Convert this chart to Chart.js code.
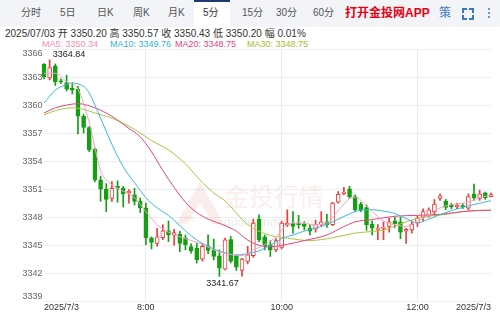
<!DOCTYPE html>
<html>
<head>
<meta charset="utf-8">
<script src="https://cdn.jsdelivr.net/npm/chart.js@4.4.1/dist/chart.umd.min.js"></script>
<style>
  html, body { margin: 0; padding: 0; width: 500px; height: 312px; overflow: hidden; background: #fff;
    font-family: Arial, "Liberation Sans", "Noto Sans CJK SC", sans-serif; }
  #tabs { position: absolute; left: 0; top: 0; width: 500px; height: 27px; background: #f2f4f8; }
  .tab { position: absolute; top: 0; height: 27px; line-height: 26px; font-size: 10px; color: #555; white-space: nowrap; }
  #active { position: absolute; left: 194px; top: 0; width: 36px; height: 25px; background: #fff; border-top: 2px solid #1d3c6e; }
  #app { position: absolute; left: 345px; top: 0; line-height: 26px; font-size: 12px; font-weight: bold; color: #e60012; }
  #ce { position: absolute; left: 439px; top: 0; line-height: 26px; font-size: 12px; color: #3a78c9; }
  .corner { position: absolute; width: 3px; height: 3px; border-color: #3a78c9; border-style: solid; border-width: 0; }
  .dot { position: absolute; left: 488px; width: 2px; height: 2px; background: #3a78c9; border-radius: 1px; }
  #info { position: absolute; left: 5px; top: 27px; line-height: 13px; font-size: 10px; color: #333; white-space: nowrap; }
  .ma { position: absolute; top: 39px; line-height: 11px; font-size: 9px; white-space: nowrap; }
  #wrap { position: absolute; left: 0; top: 0; width: 500px; height: 312px; }
</style>
</head>
<body>
<div id="tabs">
  <div id="active"></div>
  <span class="tab" style="left:21px">分时</span>
  <span class="tab" style="left:60px">5日</span>
  <span class="tab" style="left:97px">日K</span>
  <span class="tab" style="left:133px">周K</span>
  <span class="tab" style="left:168px">月K</span>
  <span class="tab" style="left:203px;color:#333">5分</span>
  <span class="tab" style="left:242px">15分</span>
  <span class="tab" style="left:276px">30分</span>
  <span class="tab" style="left:313px">60分</span>
  <span id="app">打开金投网APP</span>
  <span id="ce">策</span>
  <div class="corner" style="left:462px;top:8px;border-top-width:2px;border-left-width:2px"></div>
  <div class="corner" style="left:469px;top:8px;border-top-width:2px;border-right-width:2px"></div>
  <div class="corner" style="left:462px;top:15px;border-bottom-width:2px;border-left-width:2px"></div>
  <div class="corner" style="left:469px;top:15px;border-bottom-width:2px;border-right-width:2px"></div>
  <div class="dot" style="top:8px"></div>
  <div class="dot" style="top:12px"></div>
  <div class="dot" style="top:16px"></div>
</div>
<div id="info">2025/07/03 开 3350.20 高 3350.57 收 3350.43 低 3350.20 幅 0.01%</div>
<span class="ma" style="left:42px;color:#f08fb0">MA5: 3350.34</span>
<span class="ma" style="left:110px;color:#2fb3d9">MA10: 3349.76</span>
<span class="ma" style="left:175px;color:#e5467e">MA20: 3348.75</span>
<span class="ma" style="left:247px;color:#9dbf2e">MA30: 3348.75</span>
<div id="wrap"><canvas id="chart"></canvas></div>
<script>
// 5 minute candles, 6:30 .. 13:05
var times = [];
for (var k = 0; k < 80; k++) {
  var m = 390 + k * 5;
  times.push(Math.floor(m / 60) + ':' + ('0' + (m % 60)).slice(-2));
}
var tickLabels = { 0: '2025/7/3', 18: '8:00', 42: '10:00', 66: '12:00', 79: '2025/7/3' };
var yTicks = [3339, 3342, 3345, 3348, 3351, 3354, 3357, 3360, 3363, 3366];

var opens = [3364.35,3362.9,3364.2,3362.6,3362.4,3361.8,3361.7,3358.8,3357.6,3355.3,
  3352.0,3351.0,3350.0,3351.3,3351.1,3350.6,3350.4,3349.7,3349.0,3345.8,
  3345.2,3345.8,3346.55,3346.1,3346.2,3345.8,3344.85,3344.7,3343.5,3344.9,
  3344.5,3343.87,3342.45,3345.6,3343.9,3342.3,3343.26,3343.87,3347.8,3345.9,
  3345.05,3344.5,3344.76,3347.2,3347.37,3347.3,3347.3,3346.8,3346.73,3347.2,
  3347.5,3347.2,3349.6,3350.5,3351.04,3350.22,3349.4,3349.04,3347.27,3346.7,
  3346.8,3347.0,3347.6,3347.5,3346.5,3346.65,3347.37,3348.0,3348.2,3348.6,
  3350.0,3349.7,3349.3,3349.1,3349.25,3348.97,3350.5,3350.0,3350.6,3350.2];
var highs = [3364.45,3364.84,3364.4,3362.8,3363.2,3362.4,3362.0,3359.0,3357.7,3355.4,
  3352.4,3351.6,3351.8,3351.9,3351.3,3350.95,3351.1,3350.05,3349.5,3345.9,
  3346.8,3347.2,3347.6,3346.7,3346.5,3346.1,3345.15,3345.2,3345.2,3346.1,
  3345.66,3344.5,3345.76,3345.94,3344.0,3343.6,3344.87,3347.8,3348.26,3346.1,
  3345.5,3345.7,3347.55,3348.8,3348.6,3348.2,3347.5,3347.2,3347.7,3348.6,
  3348.3,3349.6,3350.75,3351.2,3351.3,3350.4,3349.6,3349.3,3347.6,3347.2,
  3347.5,3347.9,3348.0,3348.0,3346.8,3347.6,3348.1,3348.9,3349.0,3349.9,
  3350.5,3349.9,3349.5,3349.5,3349.5,3350.5,3351.55,3350.9,3350.7,3350.57];
var lows = [3362.8,3362.7,3362.1,3362.3,3361.5,3361.2,3356.9,3357.0,3355.0,3351.8,
  3349.7,3348.6,3349.7,3349.6,3349.1,3349.5,3349.3,3348.5,3345.05,3344.6,
  3344.9,3345.6,3345.4,3345.0,3344.3,3344.5,3344.15,3343.1,3343.3,3344.1,
  3343.44,3341.67,3342.37,3343.1,3342.3,3341.7,3343.0,3343.7,3345.37,3344.5,
  3343.8,3344.3,3344.6,3347.0,3346.3,3346.8,3346.65,3346.1,3346.4,3347.0,
  3346.9,3347.1,3349.5,3350.4,3350.0,3348.6,3348.6,3346.6,3346.1,3345.6,
  3345.6,3346.4,3346.9,3345.7,3345.2,3346.3,3347.0,3347.6,3348.0,3348.2,
  3349.8,3348.8,3348.9,3348.9,3348.9,3348.8,3349.8,3349.8,3349.9,3350.2];
var closes = [3363.0,3364.0,3362.5,3362.5,3361.7,3361.6,3358.8,3357.6,3355.2,3352.0,
  3351.0,3349.9,3351.1,3351.1,3350.5,3350.8,3349.7,3349.0,3345.8,3345.3,
  3345.9,3346.55,3346.1,3346.35,3345.2,3345.05,3344.4,3343.45,3344.87,3344.45,
  3343.8,3342.55,3345.58,3343.3,3342.65,3343.52,3343.98,3347.37,3345.58,3344.9,
  3344.5,3345.5,3347.37,3347.35,3347.0,3347.2,3347.0,3346.5,3347.2,3347.5,
  3347.2,3349.5,3350.45,3350.7,3350.2,3348.8,3348.8,3347.2,3346.83,3346.8,
  3346.95,3347.5,3347.3,3346.4,3346.7,3347.27,3347.9,3348.6,3348.8,3349.4,
  3350.3,3349.05,3349.1,3349.3,3349.1,3350.2,3350.05,3350.5,3350.1,3350.43];

// moving averages as [candle index, value]
var ma5 = [[0,3363.4],[2,3363.4],[4,3362.5],[6,3361.7],[8,3358.1],[10,3353.0],[11,3352.0],
  [13,3351.1],[16,3350.1],[18,3348.6],[20,3347.2],[22,3346.4],[25,3345.7],[28,3345.1],
  [30,3344.5],[33,3344.0],[35,3343.9],[37,3344.5],[39,3345.05],[41,3345.9],[43,3347.2],
  [45,3347.4],[48,3347.2],[50,3347.4],[52,3348.7],[54,3350.0],[55,3350.15],[57,3349.2],
  [60,3347.6],[62,3347.2],[64,3347.0],[66,3347.6],[68,3348.2],[70,3349.0],[72,3349.35],
  [75,3349.6],[77,3350.1],[79,3350.34]];
var ma10 = [[0,3360.2],[2,3361.6],[4,3362.2],[5,3362.35],[7,3362.0],[8,3361.3],[9,3360.0],
  [10,3358.6],[12,3355.8],[14,3353.4],[16,3351.7],[18,3350.1],[20,3349.0],[22,3348.2],
  [24,3347.1],[26,3346.0],[28,3345.2],[30,3344.6],[32,3344.2],[34,3343.95],[36,3344.1],
  [38,3344.4],[40,3345.0],[42,3345.7],[44,3346.1],[47,3346.7],[49,3347.0],[51,3347.5],
  [54,3348.35],[56,3348.75],[58,3348.8],[60,3348.65],[62,3348.4],[64,3347.85],[66,3347.4],
  [68,3347.8],[71,3348.5],[74,3349.05],[77,3349.5],[79,3349.76]];
var ma20 = [[0,3359.15],[2,3359.7],[4,3360.0],[6,3360.15],[9,3359.7],[12,3358.8],[15,3357.5],
  [17,3356.6],[19,3355.0],[21,3353.0],[23,3351.2],[25,3349.6],[27,3348.5],[29,3347.8],
  [32,3347.1],[34,3346.5],[36,3345.55],[38,3345.0],[40,3344.85],[43,3345.1],[46,3345.5],
  [50,3346.1],[53,3347.0],[55,3347.5],[58,3347.75],[62,3348.1],[66,3348.2],[70,3348.3],
  [74,3348.6],[77,3348.72],[79,3348.75]];
var ma30 = [[0,3358.95],[2,3359.4],[5,3359.7],[7,3359.55],[9,3359.15],[12,3358.6],[16,3357.4],
  [19,3356.2],[22,3355.2],[25,3353.7],[28,3351.7],[30,3350.6],[32,3349.75],[34,3348.45],
  [36,3347.2],[38,3346.5],[40,3346.05],[43,3345.76],[47,3345.5],[51,3345.8],[55,3346.3],
  [58,3346.47],[60,3346.6],[62,3347.05],[65,3347.7],[68,3348.1],[71,3348.3],[74,3348.6],
  [77,3348.73],[79,3348.75]];

var RED = '#ee3b3b', GREEN = '#13a013';

function toSeries(pairs) {
  var out = times.map(function() { return null; });
  pairs.forEach(function(p) { out[p[0]] = p[1]; });
  return out;
}
function isUp(i) { return closes[i] >= opens[i]; }

function maLine(label, pairs, color) {
  return {
    type: 'line', label: label, data: toSeries(pairs), borderColor: color, borderWidth: 1,
    pointRadius: 0, spanGaps: true, cubicInterpolationMode: 'monotone', order: 0
  };
}

var overlay = {
  id: 'overlay',
  beforeDatasetsDraw: function(chart) {
    var c = chart.ctx;
    c.save();
    // faint watermark
    c.fillStyle = 'rgba(226,150,140,0.16)';
    c.beginPath();
    c.moveTo(176, 224); c.lineTo(200, 182); c.lineTo(224, 224); c.lineTo(213, 224);
    c.lineTo(200, 202); c.lineTo(187, 224); c.closePath(); c.fill();
    c.font = 'bold 9px Arial';
    c.fillText('Au', 183, 221);
    c.font = '25px "Noto Sans CJK SC"';
    c.textBaseline = 'middle';
    c.fillText('金投行情', 224, 196);
    c.fillStyle = 'rgba(190,190,190,0.3)';
    c.font = '12px Arial';
    c.fillText('quote.cngold.org', 224, 223);
    c.restore();
  },
  afterDraw: function(chart) {
    var c = chart.ctx, y = chart.scales.y, x = chart.scales.x;
    c.save();
    c.font = '9px Arial';
    c.fillStyle = '#666';
    c.textAlign = 'right';
    c.textBaseline = 'middle';
    yTicks.forEach(function(v) {
      var py = y.getPixelForValue(v);
      if (v === y.max) py += 5;
      if (v === y.min) py -= 4.5;
      c.fillText(String(v), 42.5, py);
    });
    // high / low marks
    var hi = highs.indexOf(Math.max.apply(null, highs));
    var lo = lows.indexOf(Math.min.apply(null, lows));
    c.fillStyle = '#222';
    c.textAlign = 'left';
    c.fillText(highs[hi].toFixed(2), x.getPixelForValue(hi) + 3, y.getPixelForValue(highs[hi]) - 5);
    c.textAlign = 'center';
    c.fillText(lows[lo].toFixed(2), x.getPixelForValue(lo) + 3, y.getPixelForValue(lows[lo]) + 7);
    c.restore();
  }
};

new Chart(document.getElementById('chart'), {
  type: 'bar',
  data: {
    labels: times,
    datasets: [
      maLine('MA5', ma5, '#f5a3c3'),
      maLine('MA10', ma10, '#3cb9dd'),
      maLine('MA20', ma20, '#e3467b'),
      maLine('MA30', ma30, '#a9c541'),
      {
        label: 'body',
        data: opens.map(function(o, i) { return [o, closes[i]]; }),
        backgroundColor: function(ctx) { return isUp(ctx.dataIndex) ? '#fff' : GREEN; },
        borderColor: function(ctx) { return isUp(ctx.dataIndex) ? RED : GREEN; },
        borderWidth: 1, borderSkipped: false, barThickness: 4, minBarLength: 1,
        grouped: false, clip: false, order: 1
      },
      {
        label: 'wick',
        data: lows.map(function(l, i) { return [l, highs[i]]; }),
        backgroundColor: function(ctx) { return isUp(ctx.dataIndex) ? RED : GREEN; },
        borderWidth: 0, barThickness: 1, grouped: false, clip: false, order: 2
      }
    ]
  },
  options: {
    responsive: true,
    maintainAspectRatio: false,
    animation: false,
    layout: { padding: { top: 49, right: 9, left: 0, bottom: 0 } },
    plugins: { legend: { display: false }, tooltip: { enabled: false } },
    scales: {
      x: {
        type: 'category',
        offset: false,
        border: { display: false },
        grid: {
          offset: false, drawTicks: false,
          color: function(ctx) { return [18, 42, 66].indexOf(ctx.index) >= 0 ? '#ececec' : 'rgba(0,0,0,0)'; }
        },
        ticks: {
          autoSkip: false, maxRotation: 0, align: 'inner', padding: 1,
          color: '#333', font: { size: 9, family: 'Arial' },
          callback: function(v, i) { return tickLabels[i] !== undefined ? tickLabels[i] : ''; }
        },
        afterFit: function(scale) { scale.height = 10.7; }
      },
      y: {
        min: 3339, max: 3366,
        border: { display: false },
        grid: { color: '#eeeeee', drawTicks: false },
        ticks: { stepSize: 3, display: false },
        afterFit: function(scale) { scale.height; scale.width = 44; }
      }
    }
  },
  plugins: [overlay]
});
</script>
</body>
</html>
